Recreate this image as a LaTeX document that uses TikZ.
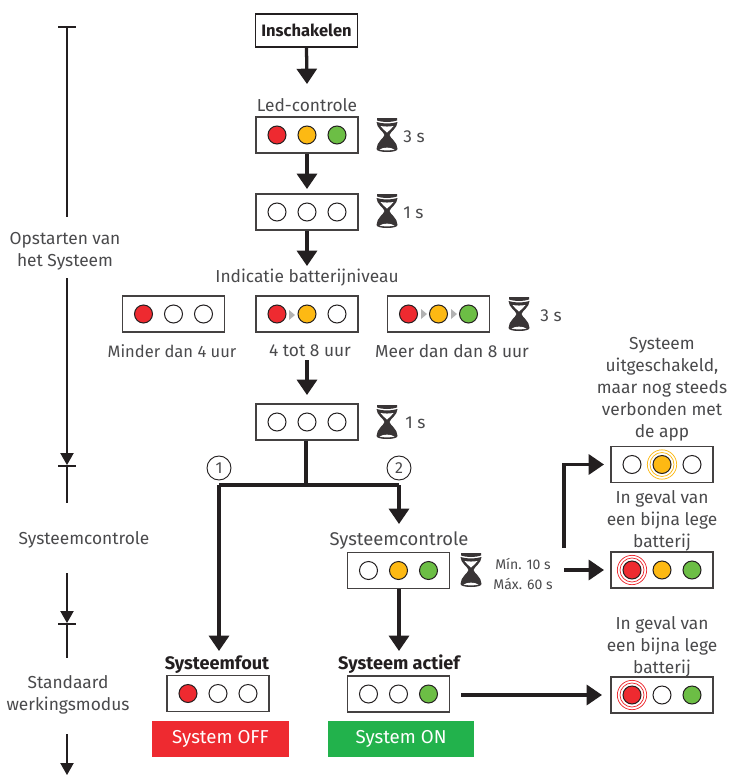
\documentclass[tikz,border=0pt]{standalone}
\usepackage{fontspec}
\setmainfont{Fira Sans}
\usetikzlibrary{arrows.meta}
\definecolor{ledred}{HTML}{EE2A30}
\definecolor{ledamber}{HTML}{FDB913}
\definecolor{ledgreen}{HTML}{6CBE45}
\definecolor{stategreen}{HTML}{22B24C}
\definecolor{txt}{HTML}{4A4A4C}
\definecolor{ink}{HTML}{231F20}
\tikzset{
  flow/.style={draw=ink,line width=2.45pt,-{Triangle[length=11.5pt,width=15pt]}},
  flowplain/.style={draw=ink,line width=2.45pt},
  side/.style={draw=ink,line width=0.8pt},
  sidearrow/.style={draw=ink,line width=0.8pt,-{Triangle[length=9pt,width=10pt]}},
  panel/.style={draw=ink!85,line width=0.9pt,fill=white,minimum width=76.5pt,minimum height=27pt,inner sep=0pt},
  led/.style={circle,draw=ink,line width=0.75pt,minimum size=13.5pt,inner sep=0pt},
  label/.style={text=txt,font=\fontsize{13}{16.5}\selectfont,align=center,inner sep=0pt},
  smalllabel/.style={text=txt,font=\fontsize{10.5}{15}\selectfont,align=center,inner sep=0pt},
  boldlabel/.style={text=ink,font=\fontsize{13.6}{16}\selectfont\bfseries,inner sep=0pt},
  numcirc/.style={circle,draw=ink,line width=0.7pt,minimum size=18pt,inner sep=0pt,text=txt,font=\fontsize{12}{13}\selectfont},
  statebox/.style={minimum height=27pt,inner sep=0pt,text=white,font=\fontsize{14}{16}\selectfont},
  halo/.style={draw=#1,line width=0.55pt,fill=none},
}
\newcommand{\ledpanel}[6]{%
  \node[panel] (#1) at (#2,#3) {};
  \node[led,fill=#4] (#1-a) at (#2-30,#3) {};
  \node[led,fill=#5] (#1-b) at (#2,#3) {};
  \node[led,fill=#6] (#1-c) at (#2+30,#3) {};
}
\newcommand{\hourglass}[2]{%
  \begin{scope}[shift={(#1,#2)}]
    \fill[ink!90] (-10,-17) -- (10,-17) -- (10,-14.5) .. controls (4,-12.5) and (-4,-12.5) .. (-10,-14.5) -- cycle;
    \fill[ink!90] (-10.5,-13) .. controls (-4,-11) and (4,-11) .. (10.5,-13)
       .. controls (10.5,-7) and (3,-3) .. (2.5,0)
       .. controls (3,3) and (10.5,7) .. (10.5,14)
       .. controls (10.5,18) and (-10.5,18) .. (-10.5,14)
       .. controls (-10.5,7) and (-3,3) .. (-2.5,0)
       .. controls (-3,-3) and (-10.5,-7) .. (-10.5,-13) -- cycle;
    \fill[white] (-6.5,-9) .. controls (-3,-8.3) and (3,-8.3) .. (6.5,-9)
       .. controls (5,-6) and (2,-5) .. (0,-2.5)
       .. controls (-2,-5) and (-5,-6) .. (-6.5,-9) -- cycle;
    \fill[white] (-7.5,14.5) .. controls (-3,12) and (3,12) .. (7.5,14.5)
       .. controls (4,15.7) and (-4,15.7) .. (-7.5,14.5) -- cycle;
  \end{scope}}
\newcommand{\stepmark}[2]{\fill[black!30] (#1,#2-5) -- (#1+6,#2) -- (#1,#2+5) -- cycle;}
\begin{document}
\begin{tikzpicture}[x=0.75pt,y=-0.75pt]
\useasboundingbox (0,0) rectangle (732,775);
\fill[white] (0,0) rectangle (732,775);

% --- main column
\node[panel,minimum height=24.5pt,line width=1.3pt,draw=ink,text=ink,font=\fontsize{12.4}{14}\selectfont\bfseries] (start) at (306.5,30.5) {Inschakelen};
\node[label] (ledlabel) at (307,105.5) {Led-controle};
\ledpanel{ledtest}{307}{135}{ledred}{ledamber}{ledgreen}
\ledpanel{pauseone}{307}{212}{white}{white}{white}
\node[label] (batlabel) at (307,277.5) {Indicatie batterijniveau};
\ledpanel{batlow}{173.5}{314}{ledred}{white}{white}
\ledpanel{batmid}{307}{314}{ledred}{ledamber}{white}
\ledpanel{bathigh}{438.5}{314}{ledred}{ledamber}{ledgreen}
\stepmark{289}{315}
\stepmark{421}{314}
\stepmark{451}{314}
\node[label,font=\fontsize{12.4}{16.5}\selectfont] (lowtxt) at (172,351) {Minder dan 4 uur};
\node[label] (midtxt) at (310,351) {4 tot 8 uur};
\node[label] (hightxt) at (452,351) {Meer dan dan 8 uur};
\ledpanel{pausetwo}{307}{422}{white}{white}{white}

\node[numcirc] (one) at (219,468) {1};
\node[numcirc] (two) at (399,468) {2};

\node[label,font=\fontsize{13.8}{16.5}\selectfont] (checklabel) at (399,540.5) {Systeemcontrole};
\ledpanel{check}{398.5}{570.5}{white}{ledamber}{ledgreen}
\node[boldlabel] (faultlabel) at (217,664.5) {Systeemfout};
\node[boldlabel] (activelabel) at (399,664.5) {Systeem actief};
\ledpanel{fault}{218}{693.5}{ledred}{white}{white}
\ledpanel{active}{398.5}{694}{white}{white}{ledgreen}
\node[statebox,fill=ledred,minimum width=103pt] (off) at (220.5,739) {System OFF};
\node[statebox,fill=stategreen,minimum width=109.5pt] (on) at (401,739) {System ON};

% --- right column
\node[label] (offtxt) at (662,389.5) {Systeem\\uitgeschakeld,\\maar nog steeds\\verbonden met\\de app};
\ledpanel{standby}{662}{464.5}{white}{ledamber}{white}
\node[label] (lowtxta) at (662,521) {In geval van\\een bijna lege\\batterij};
\ledpanel{lowa}{662}{570}{ledred}{ledamber}{ledgreen}
\node[label] (lowtxtb) at (662,647) {In geval van\\een bijna lege\\batterij};
\ledpanel{lowb}{662}{695}{ledred}{white}{ledgreen}

% halos
\draw[halo=ledamber] (standby-b) circle (11pt);
\draw[halo=ledamber] (standby-b) circle (9pt);
\draw[halo=ledred] (lowa-a) circle (11pt);
\draw[halo=ledred] (lowa-a) circle (9pt);
\draw[halo=ledred] (lowb-a) circle (11pt);
\draw[halo=ledred] (lowb-a) circle (9pt);

% --- timers
\hourglass{387}{135}
\node[label,anchor=west] (t3a) at (403,137) {3 s};
\hourglass{387}{211}
\node[label,anchor=west] (t1a) at (403,213) {1 s};
\hourglass{519}{314}
\node[label,anchor=west] (t3b) at (540,316) {3 s};
\hourglass{387}{422}
\node[label,anchor=west] (t1b) at (405,423) {1 s};
\hourglass{471}{570}
\node[smalllabel] (tmin) at (523,573.5) {Mín. 10 s\\Máx. 60 s};

% --- flow arrows
\coordinate (a1) at (307,84);
\coordinate (a2) at (307,189);
\coordinate (a3) at (307,266);
\coordinate (b0) at (307,360);
\coordinate (b1) at (307,395);
\coordinate (j) at (306,485);
\coordinate (jl) at (219,485);
\coordinate (jr) at (399,485);
\coordinate (e1) at (219,651);
\coordinate (e2) at (399,524);
\coordinate (e3) at (399,651);
\draw[flow] (start.south) -- (a1);
\draw[flow] (ledtest.south) -- (a2);
\draw[flow] (pauseone.south) -- (a3);
\draw[flow] (b0) -- (b1);
\draw[flowplain] (j |- pausetwo.south) -- (j);
\draw[flowplain] (jl) -- (jr);
\draw[flow] (jl) -- (e1);
\draw[flow] (jr) -- (e2);
\draw[flow] (check.south -| e3) -- (e3);
\coordinate (r0) at (564,548);
\coordinate (r1) at (564,464.5);
\coordinate (r1e) at (604,464.5);
\coordinate (r2) at (564,570);
\coordinate (r2e) at (604,570);
\coordinate (r3) at (461,695);
\coordinate (r3e) at (602,695);
\draw[flow] (r0) -- (r1) -- (r1e);
\draw[flow] (r2) -- (r2e);
\draw[flow] (r3) -- (r3e);

% --- left timeline
\node[label] (phase1) at (65,251) {Opstarten van\\het Systeem};
\node[label] (phase2) at (84,540) {Systeemcontrole};
\node[label] (phase3) at (68,695) {Standaard\\werkingsmodus};
\coordinate (t0) at (67,27);
\coordinate (t1) at (67,466);
\coordinate (t2) at (67,624);
\coordinate (t3) at (67,775);
\draw[side] (58,27) -- (76,27);
\draw[side] (58,466) -- (76,466);
\draw[side] (58,624) -- (76,624);
\draw[side] (t0) -- (67,217);
\draw[sidearrow] (67,278) -- (67,465);
\draw[side] (t1) -- (67,503);
\draw[sidearrow] (67,573) -- (67,623);
\draw[side] (t2) -- (67,658);
\draw[sidearrow] (67,734) -- (t3);
\end{tikzpicture}
\end{document}
